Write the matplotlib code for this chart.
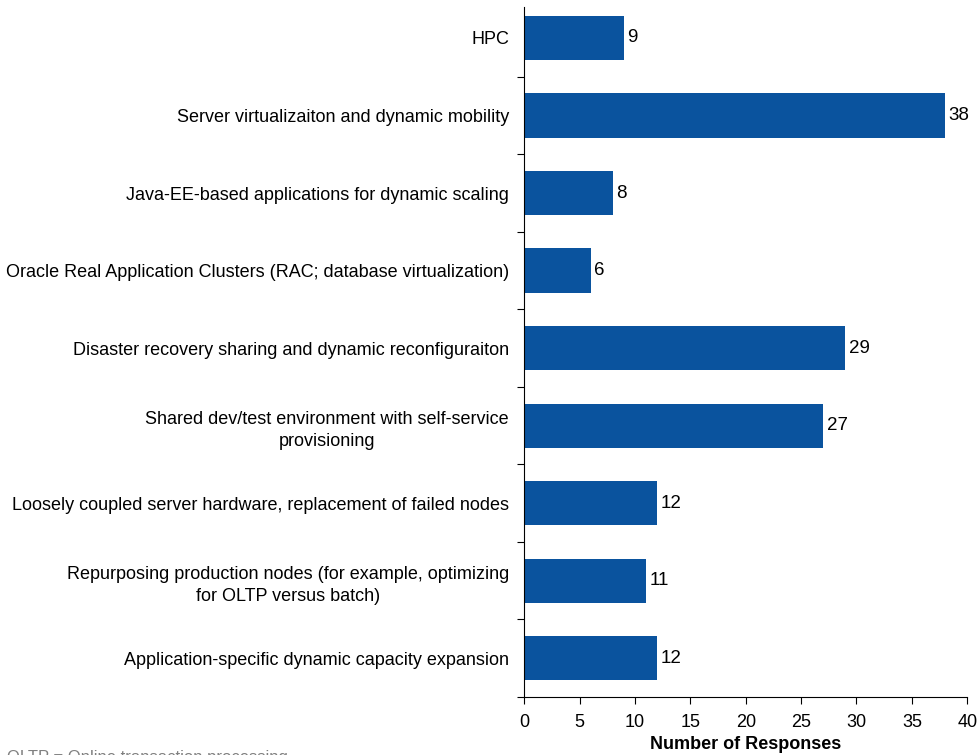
import matplotlib.pyplot as plt

# Data
categories = [
    "HPC",
    "Server virtualizaiton and dynamic mobility",
    "Java-EE-based applications for dynamic scaling",
    "Oracle Real Application Clusters (RAC; database virtualization)",
    "Disaster recovery sharing and dynamic reconfiguraiton",
    "Shared dev/test environment with self-service\nprovisioning",
    "Loosely coupled server hardware, replacement of failed nodes",
    "Repurposing production nodes (for example, optimizing\nfor OLTP versus batch)",
    "Application-specific dynamic capacity expansion",
]
responses = [9, 38, 8, 6, 29, 27, 12, 11, 12]
x_ticks = [0, 5, 10, 15, 20, 25, 30, 35, 40]

plt.rcParams['font.family'] = ['Liberation Sans', 'DejaVu Sans']
narrow = ['Liberation Sans Narrow', 'Liberation Sans', 'DejaVu Sans']

fig = plt.figure(figsize=(9.78, 7.55), dpi=100)
ax = fig.add_axes([0.536, 0.0768, 0.453, 0.914])

pos = list(range(len(categories)))
bars = ax.barh(pos, responses, height=0.57, color='#0a539e')

for p, v in zip(pos, responses):
    ax.text(v + 0.3, p, str(v), va='center', ha='left', fontsize=13.5)

ax.set_ylim(8.5, -0.4)
ax.set_xlim(0, 40)

# category boundaries as ticks on the y axis
ax.set_yticks([p + 0.5 for p in pos], minor=False)
ax.set_yticklabels([])
ax.set_yticks(pos, minor=True)
ax.set_yticklabels(categories, minor=True, fontsize=13, multialignment='center',
                   linespacing=1.4)
ax.tick_params(axis='y', which='minor', length=0, pad=11)
ax.tick_params(axis='y', which='major', length=5, direction='out')

ax.set_xticks(x_ticks)
ax.set_xticklabels([str(t) for t in x_ticks], fontsize=13, family=narrow)
ax.tick_params(axis='x', length=5, direction='out', pad=7)
ax.set_xlabel("Number of Responses", fontsize=13, fontweight='bold', family=narrow, labelpad=4)

for side in ['top', 'right']:
    ax.spines[side].set_visible(False)

fig.text(0.007, 0.007, "OLTP = Online transaction processing", fontsize=12,
         color='#808080', va='top', ha='left')

fig.savefig("out.png", dpi=100)
